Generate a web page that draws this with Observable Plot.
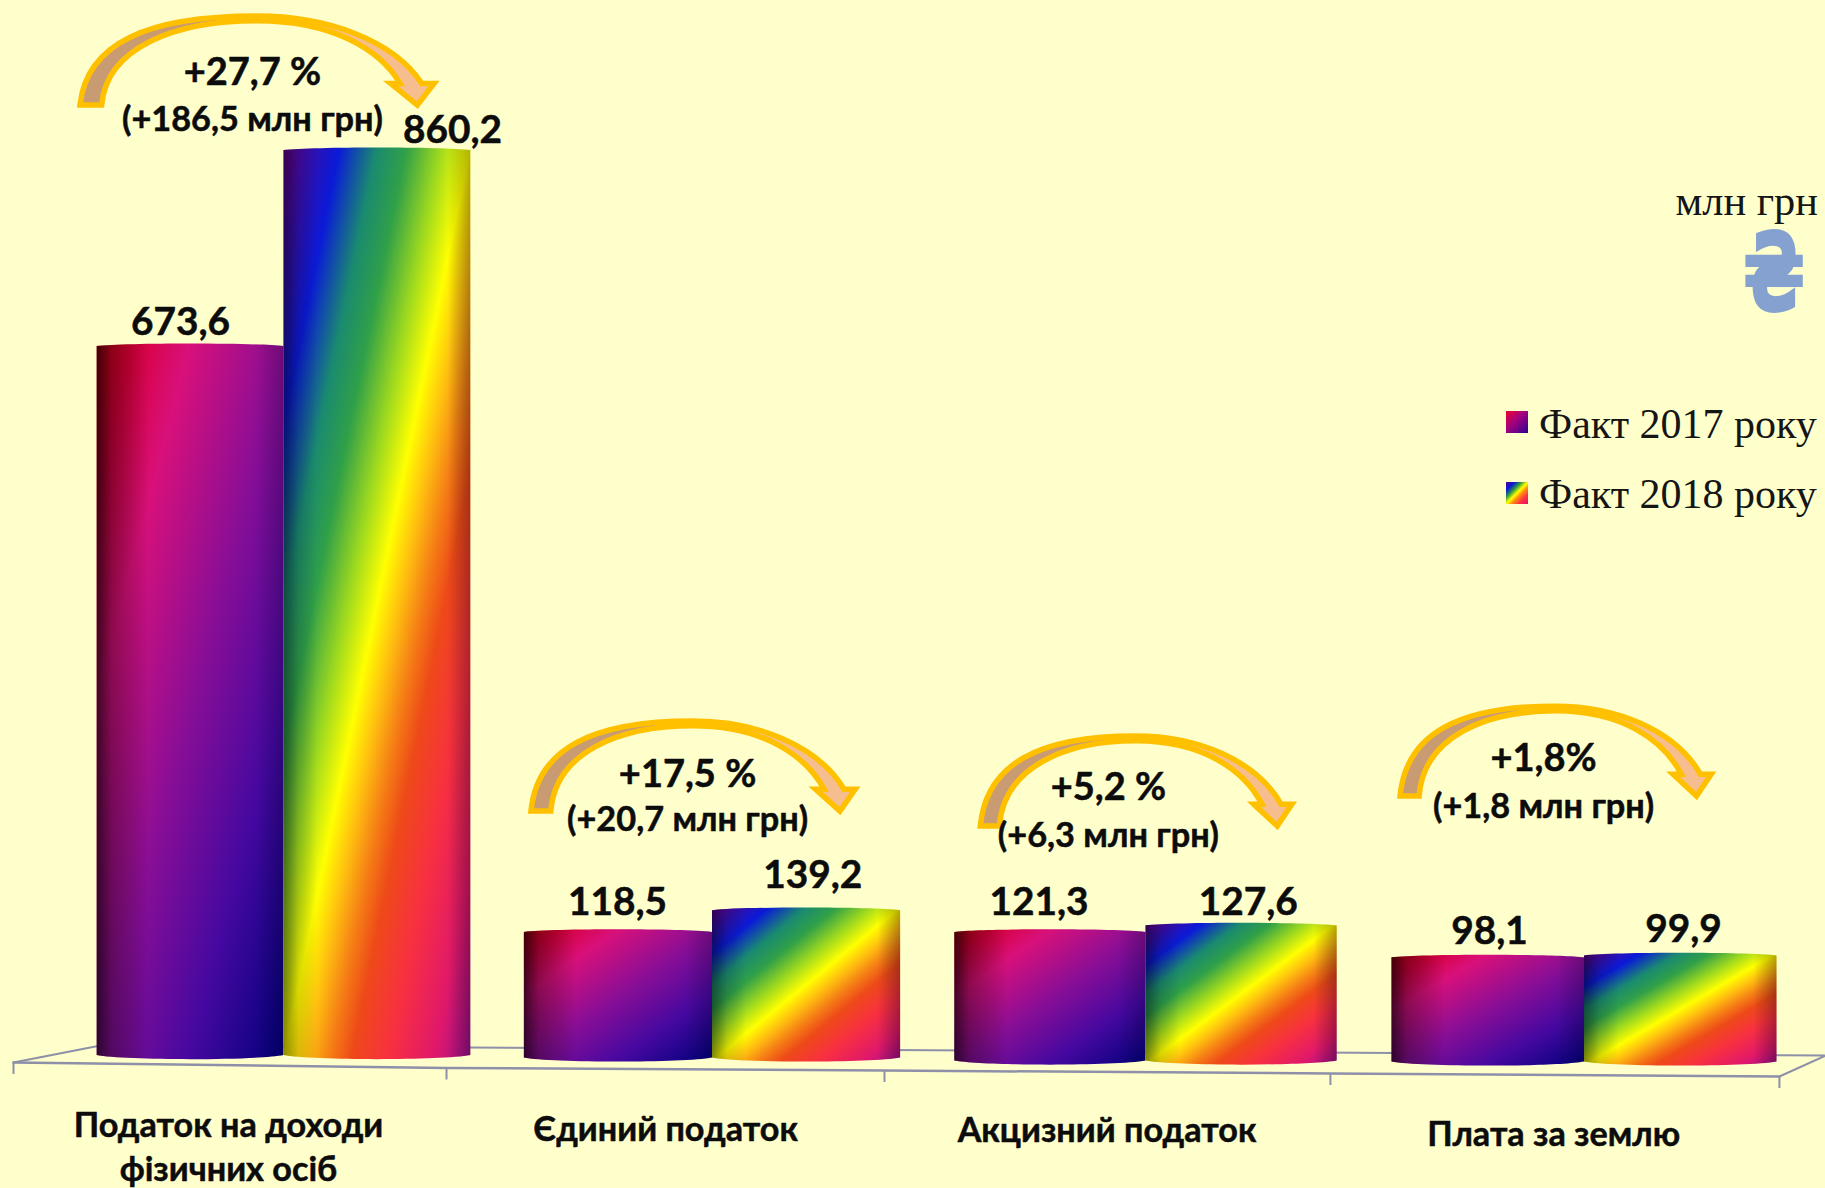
<!DOCTYPE html>
<html lang="uk">
<head>
<meta charset="utf-8">
<title>Податкові надходження</title>
<script src="https://cdn.jsdelivr.net/npm/d3@7"></script>
<script src="https://cdn.jsdelivr.net/npm/@observablehq/plot@0.6"></script>
<style>
  html, body { margin: 0; padding: 0; background: #FFFFCC; }
  #chart { position: relative; width: 1825px; height: 1188px; overflow: hidden; }
  #chart svg { display: block; background: #FFFFCC; }
  .note { position: absolute; font-family: "Liberation Serif", serif; color: #151515; white-space: nowrap; line-height: 1; }
  .swatch { position: absolute; width: 22px; height: 22px; }
</style>
</head>
<body>
<div id="chart">
  <div class="note" id="unit" style="right:7px; top:180px; font-size:42.4px;">млн грн</div>
  <div class="note" id="hryvnia" style="left:1743px; top:219px; font-size:108px; font-family:'DejaVu Sans'; font-weight:bold; color:#84A1D0; -webkit-text-stroke:2px #84A1D0; transform:scaleX(0.67); transform-origin:left top;">₴</div>
  <div class="swatch" style="left:1506px; top:411px; background:linear-gradient(135deg,#f00030,#a00080 45%,#300090);"></div>
  <div class="note" style="left:1539px; top:403px; font-size:42px;">Факт 2017 року</div>
  <div class="swatch" style="left:1506px; top:482px; background:linear-gradient(135deg,#500090,#0a1ad8 20%,#2a9a40 35%,#ffff00 50%,#ff8a10 62%,#ff3344 78%,#e0106a);"></div>
  <div class="note" style="left:1539px; top:473px; font-size:42px;">Факт 2018 року</div>
</div>
<script>
// ---- values ----
const categories = ["Податок на доходи\nфізичних осіб", "Єдиний податок", "Акцизний податок", "Плата за землю"];
const fact2017 = [673.6, 118.5, 121.3, 98.1];
const fact2018 = [860.2, 139.2, 127.6, 99.9];
const changePercent = ["+27,7 %", "+17,5 %", "+5,2 %", "+1,8%"];
const changeAmount = ["(+186,5 млн грн)", "(+20,7 млн грн)", "(+6,3 млн грн)", "(+1,8 млн грн)"];

// ---- tilted floor of the 3-D chart, in scale units ----
const floorLevel = [0, -2.3, -5.2, -6.1];
const floorFrontX = [-0.1335, 0.8806, 1.9, 2.922, 3.943];
const floorFrontY = [-7.6, -12.85, -15.2, -18.1, -20.9];
const floorBackX = [0.0703, 4.048];
const floorBackY = [8.6, -1];

// ---- annotation anchors, in scale units ----
const label2017X = [0.2575, 1.279, 2.255, 3.284];
const label2017Y = [685.1, 132.3, 132.3, 105.6];
const label2018X = [0.8946, 1.733, 2.734, 3.725];
const label2018Y = [866.9, 158.9, 132.3, 106.6];
const changeX = [0.426, 1.442, 2.414, 3.407];
const percentY = [922.1, 255, 241.7, 270.2];
const amountY = [878.3, 212.2, 197, 225.5];
const arrowX1 = [0.0234, 1.079, 2.122, 3.082];
const arrowX2 = [0.8525, 1.833, 2.835, 3.789];
const arrowBottom = [903, 231.2, 216.9, 245.5];
const arrowTop = [987.6, 316.8, 302.6, 331];
const categoryX = [0.37, 1.391, 2.411, 3.43];
const categoryY = [-119.9, -82, -83.7, -86.6];

const fmt = (v) => String(v.toFixed(1)).replace(".", ",");
const bars = (values, a, b, extra) => values.map((v, i) => ({
  x1: i + a, x2: i + b, y1: floorLevel[i] + extra - 1, y2: floorLevel[i] + extra + v
}));
const labels = (values, xs, ys) => values.map((v, i) => ({x: xs[i], y: ys[i], text: fmt(v)}));
const arrows = categories.map((_, i) => ({x1: arrowX1[i], x2: arrowX2[i], y1: arrowBottom[i], y2: arrowTop[i]}));
const change = categories.map((_, i) => ({x: changeX[i], p: changePercent[i], a: changeAmount[i], py: percentY[i], ay: amountY[i]}));
const cats = categories.map((c, i) => ({x: categoryX[i], y: categoryY[i], c}));
const front = floorFrontX.map((x, i) => ({x, y: floorFrontY[i]}));
const outline = [
  front[0], {x: floorBackX[0], y: floorBackY[0]}, {x: floorBackX[1], y: floorBackY[1]}, front[4]
];

// gradients
function gradient(defs, id, coords, stops) {
  const g = defs.append("linearGradient").attr("id", id).attr("x1", coords[0]).attr("y1", coords[1]).attr("x2", coords[2]).attr("y2", coords[3]);
  for (const [o, c, a] of stops) {
    g.append("stop").attr("offset", o).attr("stop-color", c).attr("stop-opacity", a ?? 1);
  }
}
const defsMark = () => {
  const defs = d3.create("svg:defs");
  gradient(defs, "g17", [0, 0, 1, 1], [
    [0, "#d80010"], [0.1, "#d8003a"], [0.25, "#d8107a"], [0.5, "#8a0e96"], [0.75, "#4408a0"], [1, "#00007a"]
  ]);
  gradient(defs, "g18", [0, 0, 1, 1], [
    [0, "#6a0090"], [0.08, "#3010b0"], [0.15, "#0a1ad8"], [0.25, "#1a8a70"], [0.33, "#30a048"], [0.42, "#9cd820"],
    [0.5, "#ffff00"], [0.56, "#ffc010"], [0.62, "#f58015"], [0.68, "#ee4a18"], [0.78, "#f83040"], [0.9, "#e0186a"], [1, "#a01090"]
  ]);
  gradient(defs, "s17", [0, 0, 1, 0], [
    [0, "#000", 0.7], [0.08, "#000", 0.35], [0.28, "#000", 0], [0.85, "#000", 0], [1, "#000", 0.2]
  ]);
  gradient(defs, "s18", [0, 0, 1, 0], [
    [0, "#000", 0.45], [0.08, "#000", 0.15], [0.18, "#000", 0], [0.88, "#000", 0], [1, "#000", 0.3]
  ]);
  gradient(defs, "arrowFill", [0, 0, 1, 0], [
    [0.5, "#C89B72"], [0.5, "#F6BE8F"]
  ]);
  return defs.node();
};

// cylinder: each rect of the bar mark becomes a body with curved ends plus edge shading
const cylinder = (shade) => (index, scales, values, dims, ctx, next) => {
  const g = next(index, scales, values, dims, ctx);
  for (const r of Array.from(g.querySelectorAll("rect"))) {
    const x = +r.getAttribute("x"), y = +r.getAttribute("y");
    const w = +r.getAttribute("width"), h = +r.getAttribute("height");
    const b = y + h;
    const d = `M${x},${y}C${x + w * 0.15},${y - 3.5} ${x + w * 0.85},${y - 3.5} ${x + w},${y}` +
      `L${x + w},${b}C${x + w * 0.85},${b + 5.5} ${x + w * 0.15},${b + 5.5} ${x},${b}Z`;
    const body = document.createElementNS("http://www.w3.org/2000/svg", "path");
    body.setAttribute("d", d);
    const over = body.cloneNode();
    over.setAttribute("fill", `url(#${shade})`);
    r.replaceWith(body);
    body.after(over);
  }
  return g;
};

// curved arrow fitted into each rect's box
const curvedArrow = (index, scales, values, dims, ctx, next) => {
  const g = next(index, scales, values, dims, ctx);
  for (const r of Array.from(g.querySelectorAll("rect"))) {
    const x = +r.getAttribute("x"), y = +r.getAttribute("y");
    const w = +r.getAttribute("width"), h = +r.getAttribute("height");
    const X = (u) => x + ((u - 60) / 1062) * w;
    const Y = (v) => y + ((v - 48) / 267) * h;
    const P = (u, v) => `${X(u)},${Y(v)}`;
    const d = `M${P(60, 315)}C${P(80, 130)} ${P(260, 48)} ${P(590, 48)}C${P(800, 48)} ${P(1000, 120)} ${P(1085, 250)}` +
      `L${P(1122, 250)}L${P(1072, 315)}L${P(992, 250)}L${P(1020, 250)}` +
      `C${P(960, 150)} ${P(820, 62)} ${P(590, 62)}C${P(350, 62)} ${P(140, 140)} ${P(125, 315)}Z`;
    const p = document.createElementNS("http://www.w3.org/2000/svg", "path");
    p.setAttribute("d", d);
    r.replaceWith(p);
  }
  return g;
};

const font = "Lato, Carlito, 'Open Sans', sans-serif";
const textInk = "#0c0c0c";
const textStyle = {lineAnchor: "bottom", fontWeight: 700, fill: textInk, stroke: textInk, strokeWidth: 0.5};

const chart = Plot.plot({
  width: 1825,
  height: 1188,
  marginTop: 150,
  marginBottom: 134,
  marginLeft: 0,
  marginRight: 0,
  style: {background: "#FFFFCC", fontFamily: font},
  x: {type: "linear", axis: null, domain: [0, 1, 2, 3, 4], range: [70, 497, 927, 1364, 1804]},
  y: {axis: null, domain: [0, 860.2], range: [1054, 150]},
  marks: [
    defsMark,
    Plot.line(outline, {x: "x", y: "y", stroke: "#8d90a8", strokeWidth: 2}),
    Plot.line(front, {x: "x", y: "y", stroke: "#8d90a8", strokeWidth: 2.5}),
    Plot.ruleX(front, {x: "x", y1: "y", y2: (d) => d.y - 11.4, stroke: "#8d90a8", strokeWidth: 2}),
    Plot.rect(bars(fact2017, 0.0625, 0.5, 0), {x1: "x1", x2: "x2", y1: "y1", y2: "y2", fill: "url(#g17)", render: cylinder("s17")}),
    Plot.rect(bars(fact2018, 0.5, 0.9375, 0), {x1: "x1", x2: "x2", y1: "y1", y2: "y2", fill: "url(#g18)", render: cylinder("s18")}),
    Plot.rect(arrows, {x1: "x1", x2: "x2", y1: "y1", y2: "y2", fill: "url(#arrowFill)", stroke: "#FFC000", strokeWidth: 5.5, render: curvedArrow}),
    Plot.text(labels(fact2017, label2017X, label2017Y), {x: "x", y: "y", text: "text", fontSize: 38.8, ...textStyle}),
    Plot.text(labels(fact2018, label2018X, label2018Y), {x: "x", y: "y", text: "text", fontSize: 38.8, ...textStyle}),
    Plot.text(change, {x: "x", y: "py", text: "p", fontSize: 38, ...textStyle}),
    Plot.text(change, {x: "x", y: "ay", text: "a", fontSize: 34.3, ...textStyle}),
    Plot.text(cats, {x: "x", y: "y", text: "c", lineHeight: 1.27, fontSize: 34.2, ...textStyle})
  ]
});
document.getElementById("chart").prepend(chart);
</script>
</body>
</html>
